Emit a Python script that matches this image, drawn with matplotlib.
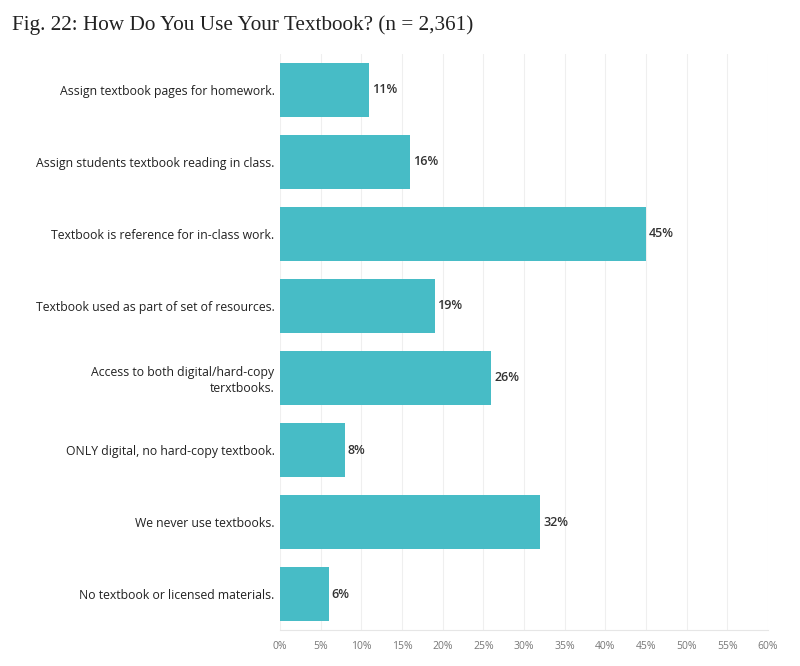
import matplotlib.pyplot as plt

categories = [
    "Assign textbook pages for homework.",
    "Assign students textbook reading in class.",
    "Textbook is reference for in-class work.",
    "Textbook used as part of set of resources.",
    "Access to both digital/hard-copy\nterxtbooks.",
    "ONLY digital, no hard-copy textbook.",
    "We never use textbooks.",
    "No textbook or licensed materials.",
]
values = [11, 16, 45, 19, 26, 8, 32, 6]
xticks = [0, 5, 10, 15, 20, 25, 30, 35, 40, 45, 50, 55, 60]

bar_color = "#47bcc6"

fig = plt.figure(figsize=(8, 6.66), dpi=100)
ax = fig.add_axes([0.35, 0.054, 0.61, 0.865])

y = list(range(len(categories)))
ax.barh(y, values, height=0.75, color=bar_color, zorder=2)
ax.set_ylim(len(categories) - 0.5, -0.5)

for yi, v in zip(y, values):
    ax.text(v + 0.35, yi, f"{v}%", va="center", ha="left",
            fontsize=9, fontweight="semibold", color="#333333", family="Open Sans")

ax.set_yticks(y)
ax.set_yticklabels(categories, fontsize=8.8, color="#222222", family="Open Sans",
                   fontweight="medium", linespacing=1.3)
ax.tick_params(axis="y", length=0, pad=4)
for lbl in ax.get_yticklabels():
    lbl.set_horizontalalignment("right")
    lbl.set_multialignment("right")

ax.set_xticks(xticks)
ax.set_xticklabels([f"{t}%" for t in xticks], fontsize=7.5, color="#777777", family="Open Sans")
ax.set_xlim(0, 60)
ax.tick_params(axis="x", length=0, pad=8)

ax.grid(axis="x", color="#efefef", linewidth=0.8, zorder=0)
for side in ["top", "right", "left"]:
    ax.spines[side].set_visible(False)
ax.spines["bottom"].set_color("#e6e6e6")

fig.text(0.015, 0.963, "Fig. 22: How Do You Use Your Textbook? (n = 2,361)",
         fontsize=15.3, family="Liberation Serif", color="#222222", va="center", ha="left")

fig.savefig("out.png", dpi=100, facecolor="white")
